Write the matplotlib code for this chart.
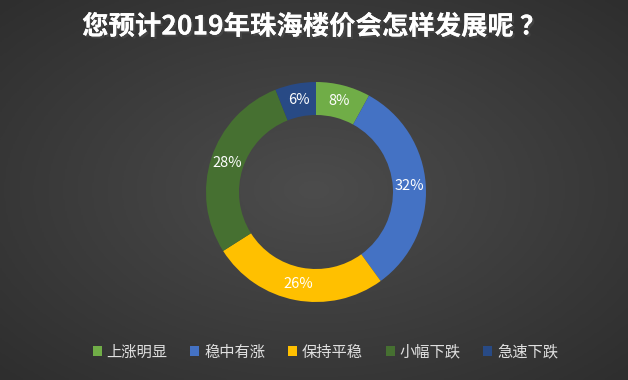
import matplotlib.pyplot as plt
import matplotlib.patheffects as pe
from matplotlib.colors import LinearSegmentedColormap
import numpy as np

plt.rcParams['font.family'] = ['Noto Sans CJK SC', 'DejaVu Sans']

labels = ['上涨明显', '稳中有涨', '保持平稳', '小幅下跌', '急速下跌']
values = [8, 32, 26, 28, 6]
colors = ['#70ad47', '#4472c4', '#ffc000', '#467031', '#284a85']
title = '您预计2019年珠海楼价会怎样发展呢 ？'

fig = plt.figure(figsize=(6.28, 3.8), dpi=100)
fig.patch.set_facecolor('#404040')

# subtle radial background, lighter in the middle
bg = fig.add_axes([0, 0, 1, 1], zorder=0)
yy, xx = np.mgrid[-1:1:200j, -1:1:300j]
rr = np.sqrt(xx**2 + yy**2)
bg_cmap = LinearSegmentedColormap.from_list('bg', ['#4c4c4c', '#2e2e2e'])
bg.imshow(rr, cmap=bg_cmap, vmin=0, vmax=1.414, aspect='auto', extent=[0, 1, 0, 1])
bg.set_xlim(0, 1)
bg.set_ylim(0, 1)
bg.axis('off')

ax = fig.add_axes([(316 - 110) / 628, (380 - 302) / 380, 220 / 628, 220 / 380], zorder=1)
wedges, _ = ax.pie(values, colors=colors, startangle=90, counterclock=False,
                   radius=1.0, wedgeprops=dict(width=0.3, edgecolor='none'))
for w, v in zip(wedges, values):
    ang = np.deg2rad((w.theta1 + w.theta2) / 2)
    r = 0.85
    ax.text(r * np.cos(ang), r * np.sin(ang), f'{v}%', ha='center', va='center',
            color='white', fontsize=10.5)
ax.set_xlim(-1, 1)
ax.set_ylim(-1, 1)
ax.set_aspect('equal')

fig.text(0.5, 1 - 27 / 380, title, ha='center', va='center', color='white',
         fontsize=19, fontweight='bold',
         path_effects=[pe.withSimplePatchShadow(offset=(1.5, -1.5), alpha=0.6), pe.Normal()])

leg = fig.legend(wedges, labels, loc='center', bbox_to_anchor=(0.518, 1 - 352 / 380),
                 ncol=5, frameon=False, fontsize=11, labelcolor='#e0e0e0',
                 handlelength=0.6, handleheight=0.6, handletextpad=0.3,
                 columnspacing=1.5)

fig.savefig('out.png', dpi=100, facecolor=fig.get_facecolor())
